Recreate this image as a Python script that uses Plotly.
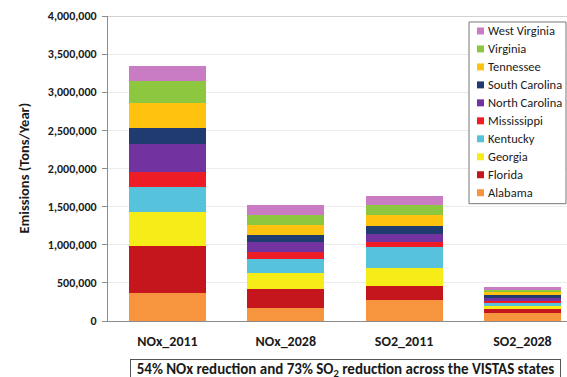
import plotly.graph_objects as go

categories = ["NOx_2011", "NOx_2028", "SO2_2011", "SO2_2028"]

# stacked from bottom (Alabama) to top (West Virginia)
states = ["Alabama", "Florida", "Georgia", "Kentucky", "Mississippi",
          "North Carolina", "South Carolina", "Tennessee", "Virginia", "West Virginia"]

alabama        = [369000, 173000, 282000, 105000]
florida        = [610000, 253000, 174000, 59000]
georgia        = [446000, 205000, 241000, 39000]
kentucky       = [327000, 183000, 275000, 46000]
mississippi    = [202000, 92000, 60000, 19000]
north_carolina = [370000, 131000, 114000, 40000]
south_carolina = [206000, 86000, 95000, 39000]
tennessee      = [327000, 141000, 153000, 33000]
virginia       = [292000, 130000, 131000, 32000]
west_virginia  = [196000, 131000, 109000, 33000]

series = [alabama, florida, georgia, kentucky, mississippi,
          north_carolina, south_carolina, tennessee, virginia, west_virginia]

colors = ["#F7953F", "#C4161C", "#F5EC18", "#56C2DC", "#EE1C24",
          "#7232A0", "#1F3B70", "#FFC20E", "#8DC63F", "#C97BC4"]

y_ticks = [0, 500000, 1000000, 1500000, 2000000, 2500000, 3000000, 3500000, 4000000]

FONT = "Carlito, Lato, 'Open Sans', sans-serif"

# plot area in pixels
L, R, T, B = 108, 567, 16, 321.5
W, H = R - L, B - T


def px(x):
    return (x - L) / W


def py(y):
    return (B - y) / H


fig = go.Figure()
for name, vals, col in zip(states, series, colors):
    fig.add_trace(go.Bar(x=categories, y=vals, name=name, showlegend=False,
                         marker=dict(color=col, line=dict(width=0))))

shapes = [dict(type="line", xref="paper", yref="y", x0=0, x1=1,
               y0=4000000, y1=4000000, line=dict(color="#a6a6a6", width=1))]
annotations = [
    dict(text="Emissions (Tons/Year)", textangle=-90,
         xref="paper", yref="paper", x=px(23), y=0.5,
         xanchor="center", yanchor="middle", showarrow=False,
         font=dict(size=14.5, family=FONT, color="#1a1a1a", weight="bold")),
    dict(text="54% NOx reduction and 73% SO<sub>2</sub> reduction across the VISTAS states",
         xref="paper", yref="paper", x=px(345.5), y=py(360),
         xanchor="center", yanchor="top", showarrow=False,
         width=429, borderpad=0, bordercolor="#555555", borderwidth=1,
         bgcolor="white",
         font=dict(size=15, family=FONT, color="#1a1a1a", weight="bold")),
]

# legend box (drawn with shapes + text, top entry = last stacked series)
shapes.append(dict(type="rect", xref="paper", yref="paper",
                   x0=px(469), x1=px(566), y0=py(22), y1=py(204),
                   line=dict(color="#777777", width=1), fillcolor="white", layer="above"))
for i, (name, col) in enumerate(zip(states[::-1], colors[::-1])):
    yc = 31 + 18 * i
    shapes.append(dict(type="rect", xref="paper", yref="paper",
                       x0=px(477), x1=px(484), y0=py(yc + 3.5), y1=py(yc - 3.5),
                       line=dict(width=0), fillcolor=col, layer="above"))
    annotations.append(dict(text=name, xref="paper", yref="paper",
                            x=px(486), y=py(yc), xanchor="left", yanchor="middle",
                            showarrow=False,
                            font=dict(size=12.5, family=FONT, color="#1a1a1a")))

fig.update_layout(
    width=567, height=377,
    barmode="stack", bargap=0.35,
    margin=dict(l=L, r=567 - R, t=T, b=377 - B, autoexpand=False),
    paper_bgcolor="white", plot_bgcolor="white",
    font=dict(family=FONT, color="#1a1a1a"),
    showlegend=False,
    xaxis=dict(
        type="category", range=[-0.503, 3.377], automargin=False,
        showline=True, linecolor="#8c8c8c", linewidth=1,
        ticks="", showgrid=False,
        tickfont=dict(size=14, family=FONT, color="#1a1a1a", weight="bold"),
        ticklabelstandoff=7,
    ),
    yaxis=dict(
        range=[0, 4000000], tickvals=y_ticks, automargin=False,
        ticktext=[f"{v:,}" for v in y_ticks],
        showline=True, linecolor="#8c8c8c", linewidth=1,
        ticks="outside", ticklen=5, tickcolor="#8c8c8c",
        showgrid=True, gridcolor="#ececec", gridwidth=1,
        zeroline=False,
        tickfont=dict(size=12, family=FONT, color="#1a1a1a", weight="bold"),
        ticklabelstandoff=3,
    ),
    shapes=shapes,
    annotations=annotations,
)

fig.write_html("out.html", config={"displayModeBar": False},
               post_script="document.body.style.margin='0';document.body.style.overflow='hidden';")
